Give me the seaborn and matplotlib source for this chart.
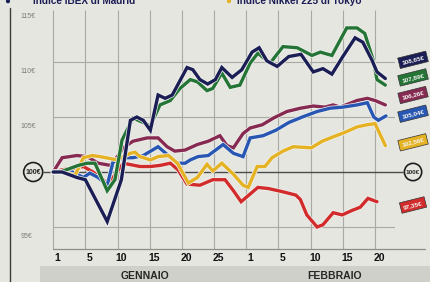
import matplotlib
matplotlib.use("Agg")
import matplotlib.pyplot as plt
import matplotlib.patheffects as pe
from matplotlib.lines import Line2D
from matplotlib.patches import Rectangle
from matplotlib.transforms import ScaledTranslation
import pandas as pd
import seaborn as sns

# asse x: giorni dal 1 gennaio (una colonna della griglia = 5)
ibex_x = [0, 1.4, 3.7, 5.0, 8.4, 10.6, 12.0, 13.0, 14.0, 15.1, 16.3, 17.4, 18.5, 20.8, 21.7, 22.8, 24.0, 25.2,
          26.2, 27.8, 29.3, 30.9, 32.0, 33.2, 34.8, 36.6, 38.5, 40.4, 41.9, 43.3, 45.0, 46.9, 48.1, 49.5, 50.3, 51.6]
ibex_y = [100, 100, 99.5, 99.3, 95.5, 99.3, 104.7, 105.0, 104.7, 103.8, 107.0, 106.7, 107.0, 109.5, 109.3, 108.4,
          108.0, 108.4, 109.5, 108.6, 109.3, 110.9, 111.3, 110.1, 109.6, 110.5, 110.7, 109.1, 109.4, 108.9, 110.5,
          112.2, 111.8, 110.2, 109.1, 108.5]

green_x = [0, 1.1, 3.9, 5.3, 6.5, 8.4, 9.6, 10.7, 12.4, 14.0, 15.1, 16.6, 18.2, 19.7, 21.3, 22.4, 23.9, 24.8,
           26.2, 27.5, 29.0, 30.6, 31.8, 33.7, 35.7, 37.9, 40.2, 41.5, 43.3, 45.6, 47.2, 48.4, 49.7, 50.3, 51.6]
green_y = [100, 100, 100.6, 100.8, 100.8, 98.3, 99.3, 102.9, 104.9, 104.5, 104.2, 106.1, 106.5, 107.6, 108.4,
           108.2, 107.4, 107.6, 109.0, 107.7, 107.9, 109.9, 110.8, 109.9, 111.4, 111.3, 110.6, 110.9, 110.6,
           113.1, 113.1, 112.6, 110.2, 108.4, 107.9]

purple_x = [0, 1.4, 3.7, 5.3, 7.0, 8.9, 10.1, 10.9, 12.4, 14.6, 16.3, 17.7, 18.9, 20.5, 22.4, 24.1, 25.9, 27.0,
            28.0, 29.5, 30.6, 32.5, 34.2, 36.3, 38.4, 40.4, 42.2, 43.5, 44.6, 47.2, 48.8, 50.0, 51.6]
purple_y = [100, 101.3, 101.5, 101.4, 100.8, 100.6, 101.5, 102.2, 102.8, 103.1, 103.1, 102.3, 101.9, 102.0, 102.5,
            102.8, 103.3, 102.4, 102.2, 103.5, 104.0, 104.3, 104.9, 105.5, 105.8, 106.0, 105.9, 106.1, 105.9,
            106.5, 106.7, 106.5, 106.1]

blue_x = [0, 3.0, 4.7, 5.7, 7.0, 8.4, 9.3, 10.9, 12.4, 14.0, 16.3, 17.9, 19.3, 20.5, 21.3, 22.5, 24.1, 26.4,
          28.0, 29.5, 30.6, 32.6, 34.6, 36.6, 38.7, 41.0, 43.0, 45.0, 47.2, 48.8, 49.8, 50.5, 51.7]
blue_y = [100, 100, 99.5, 99.9, 99.5, 98.8, 100.9, 101.3, 101.3, 101.5, 102.3, 101.5, 100.8, 100.8, 101.1, 101.4,
          101.5, 102.5, 101.7, 101.4, 103.1, 103.3, 103.8, 104.5, 105.0, 105.5, 105.8, 105.9, 106.1, 106.3,
          105.0, 104.7, 105.1]

nikkei_x = [0, 1.6, 3.4, 4.7, 6.1, 7.3, 9.9, 12.0, 12.7, 13.5, 15.1, 16.3, 17.9, 19.3, 21.0, 22.4, 23.9, 24.8,
            26.2, 28.0, 29.5, 30.3, 31.7, 32.9, 34.0, 35.7, 37.3, 40.1, 41.8, 43.5, 45.3, 47.2, 48.8, 50.0, 50.8, 51.6]
nikkei_y = [100, 100, 99.7, 101.3, 101.5, 101.4, 101.1, 101.7, 101.8, 101.4, 101.1, 101.4, 101.5, 100.8, 99.0,
            99.5, 100.7, 100.1, 100.8, 99.8, 98.8, 98.6, 100.5, 100.5, 101.3, 101.9, 102.3, 102.2, 102.8, 103.2,
            103.6, 104.1, 104.3, 104.4, 103.4, 102.4]

red_x = [0, 1.4, 3.7, 4.7, 6.2, 8.4, 9.3, 10.9, 13.5, 15.1, 16.6, 18.2, 19.4, 20.8, 22.8, 24.8, 26.7, 28.0,
         29.2, 30.6, 31.8, 33.4, 35.7, 37.7, 38.4, 39.4, 41.0, 41.9, 43.5, 44.9, 46.4, 47.7, 48.9, 50.3]
red_y = [100, 100.2, 100.4, 100.5, 100.0, 99.0, 99.5, 100.8, 100.5, 100.5, 100.6, 100.8, 100.2, 98.9, 98.8,
         99.3, 99.3, 98.3, 97.3, 98.0, 98.6, 98.5, 98.2, 97.9, 97.5, 96.1, 95.0, 95.2, 96.3, 96.1, 96.5, 96.8,
         97.6, 97.3]

tick_pos = [0, 5, 10, 15, 20, 25, 30, 35, 40, 45, 50]
tick_labels = ['1', '5', '10', '15', '20', '25', '1', '5', '10', '15', '20']
grid_levels = [95, 105, 110, 115]
end_labels = ['108,65€', '107,89€', '106,26€', '105,04€', '102,56€', '97,35€']

names = ['rosso', 'viola', 'blu', 'nikkei', 'verde', 'ibex']
colors = {'ibex': '#1b1e55', 'verde': '#247436', 'viola': '#872a52',
          'blu': '#2756b3', 'nikkei': '#e4b223', 'rosso': '#d22b2b'}
xs = {'ibex': ibex_x, 'verde': green_x, 'viola': purple_x, 'blu': blue_x, 'nikkei': nikkei_x, 'rosso': red_x}
ys = {'ibex': ibex_y, 'verde': green_y, 'viola': purple_y, 'blu': blue_y, 'nikkei': nikkei_y, 'rosso': red_y}

df = pd.concat([pd.DataFrame({'giorno': xs[n], 'valore': ys[n], 'indice': n}) for n in names])

sns.set_style("white")
plt.rcParams['font.family'] = ['Liberation Sans', 'DejaVu Sans']

paper = '#e6e6e1'
fig = plt.figure(figsize=(4.31, 2.82), dpi=100, facecolor=paper)
ax = fig.add_axes([10 / 431, 1 - 249 / 282, 385 / 431, 239 / 282])
ax.set_facecolor(paper)
ax.set_xlim(-6.7, 53.1)
ax.set_ylim(93.0, 114.73)
for s in ax.spines.values():
    s.set_visible(False)

# griglia
ax.vlines(tick_pos, 93.0, 114.73, color='#aaaaa4', lw=0.8, zorder=1)
ax.hlines(grid_levels, 0, 53.1, color='#aaaaa4', lw=0.8, zorder=1)
ax.hlines(100, -1.6, 54.4, color='#4a4a48', lw=1.0, zorder=1, clip_on=False)

sns.lineplot(data=df, x='giorno', y='valore', hue='indice', hue_order=names, palette=colors,
             estimator=None, sort=False, lw=2.4, legend=False, ax=ax, zorder=3)
for ln in ax.lines:
    ln.set_path_effects([pe.Stroke(linewidth=3.4, foreground='#f2f2ee'), pe.Normal()])
    ln.set_solid_joinstyle('miter')

ax.set_xticks(tick_pos)
ax.set_xticklabels(tick_labels, fontsize=7.5, fontweight='bold', color='#111')
ax.set_yticks([])
ax.set_xlabel('')
ax.set_ylabel('')
ax.tick_params(axis='x', length=0, pad=3)
for lab in ax.get_xticklabels():
    lab.set_transform(lab.get_transform() + ScaledTranslation(4 / 100, 0, fig.dpi_scale_trans))

for lv in grid_levels:
    ax.text(-5.0, lv - 0.85, f'{lv}€', fontsize=5, color='#7d7d78', va='center', ha='left')

circ = dict(boxstyle='circle,pad=0.25', fc=paper, ec='#1e1e1e', lw=1.2)
ax.text(-3.1, 100, '100€', fontsize=5, fontweight='bold', ha='center', va='center', bbox=circ,
        clip_on=False, zorder=5)
ax.text(55.9, 100, '100€', fontsize=4.6, fontweight='bold', ha='center', va='center', bbox=circ,
        clip_on=False, zorder=5)

# etichette finali colorate
box_y = [110.2, 108.6, 107.0, 105.3, 102.7, 97.0]
for n, lab, yy in zip(['ibex', 'verde', 'viola', 'blu', 'nikkei', 'rosso'], end_labels, box_y):
    ax.text(55.9, yy, lab, fontsize=4.6, fontweight='bold', color='#f4f4f0', ha='center', va='center',
            rotation=14, clip_on=False, zorder=5,
            bbox=dict(boxstyle='square,pad=0.45', fc=colors[n], ec='#333', lw=0.5))

# cornice
fig.add_artist(Line2D([10 / 431, 10 / 431], [0, 1 - 8 / 282], color='#3c3c3a', lw=1.0))
fig.add_artist(Line2D([53 / 431, 425 / 431], [1 - 249 / 282, 1 - 249 / 282], color='#8e8e89', lw=0.9))

# mesi
fig.add_artist(Rectangle((40 / 431, 0), 391 / 431, 16 / 282, transform=fig.transFigure,
                         fc='#d0d0cb', ec='none', zorder=0))
fig.text(145 / 431, 1 - 276 / 282, 'GENNAIO', fontsize=7.5, fontweight='bold', ha='center', va='center')
fig.text(335 / 431, 1 - 276 / 282, 'FEBBRAIO', fontsize=7.5, fontweight='bold', ha='center', va='center')

# legenda in alto (tagliata come nel ritaglio originale)
top = 1 - 1 / 282
fig.text(7 / 431, top, '●', fontsize=7, color=colors['ibex'], ha='center', va='center')
fig.text(33 / 431, top, 'Indice IBEX di Madrid', fontsize=7.2, fontweight='bold',
         color='#1b1e55', ha='left', va='center')
fig.text(228 / 431, top, '●', fontsize=7, color=colors['nikkei'], ha='center', va='center')
fig.text(237 / 431, top, 'Indice Nikkei 225 di Tokyo', fontsize=7.2, fontweight='bold',
         color='#1b1e55', ha='left', va='center')

fig.savefig('out.png', dpi=100, facecolor=paper)
